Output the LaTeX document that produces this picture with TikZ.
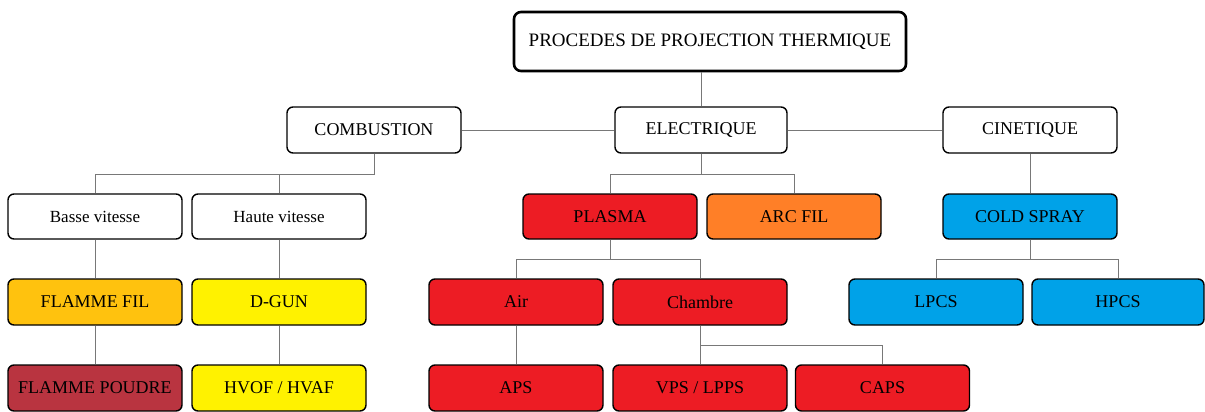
\documentclass[tikz,border=0pt]{standalone}
\usepackage{fontspec}
\setmainfont{Liberation Serif}
\definecolor{cred}{RGB}{237,28,36}
\definecolor{corange}{RGB}{255,127,39}
\definecolor{cblue}{RGB}{0,162,232}
\definecolor{cyellow}{RGB}{255,242,0}
\definecolor{camber}{RGB}{255,194,14}
\definecolor{cdark}{RGB}{185,52,64}
\definecolor{cline}{RGB}{120,120,120}
\begin{document}
\begin{tikzpicture}[x=1pt,y=-1pt,
  box/.style={draw=black,line width=1.4pt,rounded corners=6pt,minimum width=174pt,minimum height=46pt,inner sep=0pt,font=\fontsize{18}{21}\selectfont,fill=white},
  topbox/.style={box,line width=2.6pt,minimum width=392pt,minimum height=59pt,rounded corners=7pt,font=\fontsize{19}{22}\selectfont},
  conn/.style={draw=cline,line width=1pt}]
\useasboundingbox (0,0) rectangle (1205,412);
% level 1
\node[topbox] (top) at (710,41.5) {PROCEDES DE PROJECTION THERMIQUE};
% level 2
\node[box] (comb) at (374,130) {COMBUSTION};
\node[box,minimum width=172pt] (elec) at (701,130) {ELECTRIQUE};
\node[box] (cine) at (1030,130) {CINETIQUE};
% level 3
\node[box,minimum height=45pt,font=\fontsize{17}{20}\selectfont] (basse) at (95,216.5) {Basse vitesse};
\node[box,minimum height=45pt,font=\fontsize{17}{20}\selectfont] (haute) at (279,216.5) {Haute vitesse};
\node[box,minimum height=45pt,fill=cred] (plasma) at (610,216.5) {PLASMA};
\node[box,minimum height=45pt,fill=corange] (arc) at (794,216.5) {ARC FIL};
\node[box,minimum height=45pt,fill=cblue] (cold) at (1030,216.5) {COLD SPRAY};
% level 4
\node[box,fill=camber] (ffil) at (95,302) {FLAMME FIL};
\node[box,fill=cyellow] (dgun) at (279,302) {D-GUN};
\node[box,fill=cred] (air) at (516,302) {Air};
\node[box,fill=cred] (chambre) at (700,302) {Chambre};
\node[box,fill=cblue] (lpcs) at (936,302) {LPCS};
\node[box,minimum width=172pt,fill=cblue] (hpcs) at (1118,302) {HPCS};
% level 5
\node[box,fill=cdark] (fpoudre) at (95,388) {FLAMME POUDRE};
\node[box,fill=cyellow] (hvof) at (279,388) {HVOF / HVAF};
\node[box,fill=cred] (aps) at (516,388) {APS};
\node[box,fill=cred] (vps) at (700,388) {VPS / LPPS};
\node[box,fill=cred] (caps) at (882.5,388) {CAPS};
% connectors
\draw[conn] (elec.north) -- (elec.north |- top.south);
\draw[conn] (comb.east) -- (elec.west);
\draw[conn] (elec.east) -- (cine.west);
\draw[conn] (comb.south) -- ++(0,21) -| (basse.north);
\draw[conn] (comb.south) -- ++(0,21) -| (haute.north);
\draw[conn] (elec.south) -- ++(0,21) -| (plasma.north);
\draw[conn] (elec.south) -- ++(0,21) -| (arc.north);
\draw[conn] (cine.south) -- (cold.north);
\draw[conn] (basse.south) -- (ffil.north);
\draw[conn] (haute.south) -- (dgun.north);
\draw[conn] (plasma.south) -- ++(0,20) -| (air.north);
\draw[conn] (plasma.south) -- ++(0,20) -| (chambre.north);
\draw[conn] (cold.south) -- ++(0,20) -| (lpcs.north);
\draw[conn] (cold.south) -- ++(0,20) -| (hpcs.north);
\draw[conn] (ffil.south) -- (fpoudre.north);
\draw[conn] (dgun.south) -- (hvof.north);
\draw[conn] (air.south) -- (aps.north);
\draw[conn] (chambre.south) -- (vps.north);
\draw[conn] (chambre.south) -- ++(0,20) -| (caps.north);
\end{tikzpicture}
\end{document}
